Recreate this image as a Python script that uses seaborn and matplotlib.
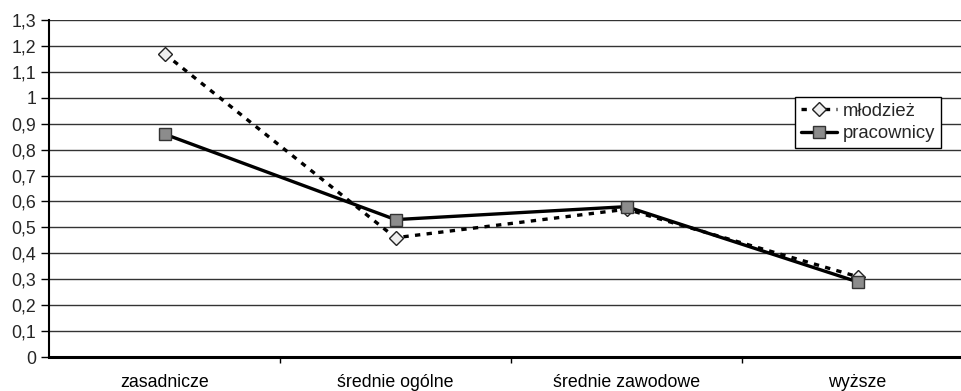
import matplotlib
matplotlib.use("Agg")
import matplotlib.pyplot as plt
import seaborn as sns
import pandas as pd
import numpy as np
from matplotlib.ticker import FixedLocator

categories = ["zasadnicze", "średnie ogólne", "średnie zawodowe", "wyższe"]
mlodziez = [1.17, 0.46, 0.57, 0.31]
pracownicy = [0.86, 0.53, 0.58, 0.29]
y_ticks = [0, 0.1, 0.2, 0.3, 0.4, 0.5, 0.6, 0.7, 0.8, 0.9, 1.0, 1.1, 1.2, 1.3]
y_labels = ["0", "0,1", "0,2", "0,3", "0,4", "0,5", "0,6", "0,7", "0,8", "0,9", "1", "1,1", "1,2", "1,3"]

sns.set_theme(style="white")
plt.rcParams['font.family'] = ['Liberation Sans', 'DejaVu Sans']

df = pd.DataFrame({
    "kat": categories * 2,
    "pos": list(range(len(categories))) * 2,
    "val": mlodziez + pracownicy,
    "seria": ["młodzież"] * 4 + ["pracownicy"] * 4,
})

fig = plt.figure(figsize=(9.62, 3.91), dpi=100)
ax = fig.add_axes([49/962, 1 - 357/391, 924/962, (357 - 20)/391])

for y in y_ticks[1:]:
    ax.axhline(y, color="#333333", lw=1.0, zorder=1)

sns.lineplot(data=df[df.seria == "młodzież"], x="pos", y="val", ax=ax,
             color="black", lw=2.4, linestyle=(0, (1.6, 1.9)),
             marker="D", markersize=7, markerfacecolor="#eeeeee",
             markeredgecolor="#222222", markeredgewidth=1.0,
             label="młodzież", zorder=3)
sns.lineplot(data=df[df.seria == "pracownicy"], x="pos", y="val", ax=ax,
             color="black", lw=2.4, linestyle="-",
             marker="s", markersize=8.5, markerfacecolor="#8c8c8c",
             markeredgecolor="#333333", markeredgewidth=1.0,
             label="pracownicy", zorder=4)

fs = 12.8
ax.set_xlim(-0.5, 3.5)
ax.set_ylim(0, 1.3)
ax.set_yticks(y_ticks)
ax.set_yticklabels(y_labels, fontsize=fs)
ax.set_xticks(range(len(categories)))
ax.set_xticklabels(categories, fontsize=fs)
ax.xaxis.set_minor_locator(FixedLocator([0.5, 1.5, 2.5]))
ax.tick_params(axis="x", which="major", length=0, pad=12, colors="black")
ax.tick_params(axis="x", which="minor", length=4.5, width=1, color="black", direction="out", bottom=True)
ax.tick_params(axis="y", which="major", length=6, width=1, color="black", direction="out", left=True, pad=3)
ax.set_xlabel("")
ax.set_ylabel("")

for s in ["top", "right"]:
    ax.spines[s].set_visible(False)
ax.spines["left"].set_color("black")
ax.spines["left"].set_linewidth(1.5)
ax.spines["bottom"].set_color("black")
ax.spines["bottom"].set_linewidth(2.2)

leg = ax.legend(loc="upper left", bbox_to_anchor=((795 - 49)/924, 1 - (97 - 20)/337),
                frameon=True, fancybox=False, fontsize=13.3, handlelength=2.0,
                handletextpad=0.3, borderpad=0.3, labelspacing=0.3, borderaxespad=0)
leg.get_frame().set_edgecolor("black")
leg.get_frame().set_linewidth(1.0)
leg.get_frame().set_alpha(1)

fig.savefig("out.png", dpi=100)
